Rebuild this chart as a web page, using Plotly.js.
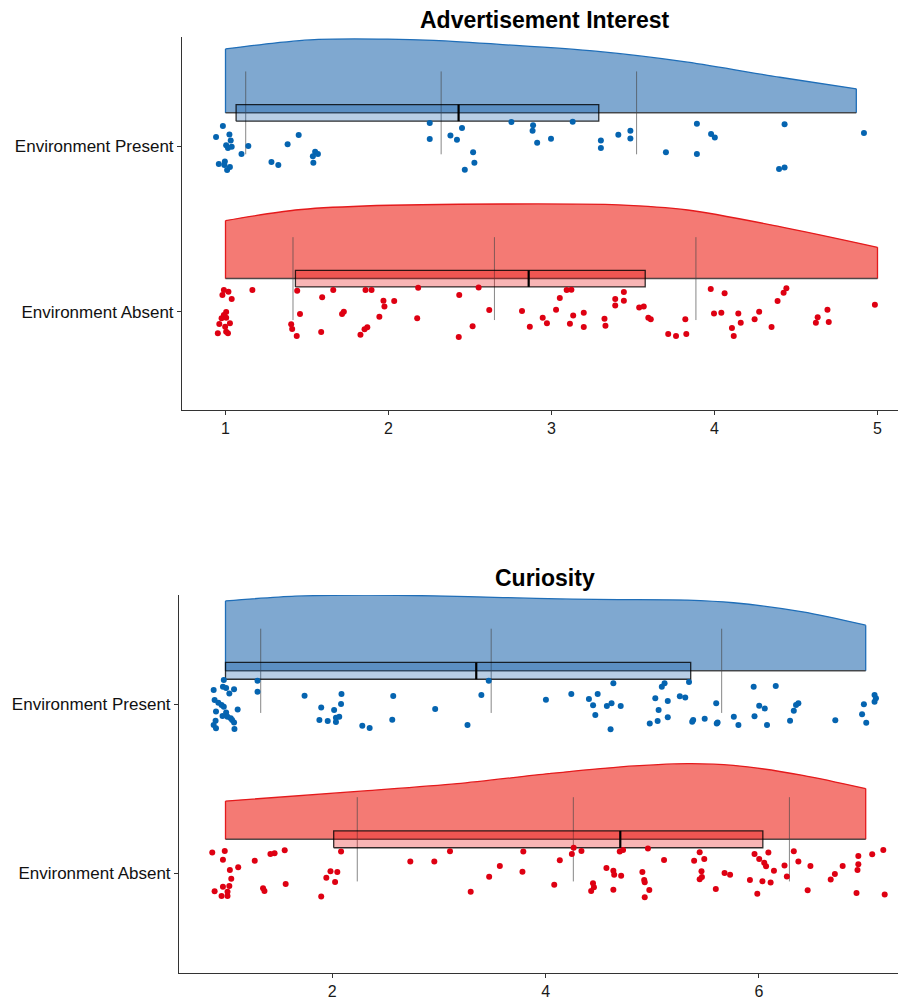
<!DOCTYPE html>
<html>
<head>
<meta charset="utf-8">
<script src="https://cdn.plot.ly/plotly-3.0.1.min.js"></script>
<style>html,body{margin:0;padding:0;background:#fff;}#chart{width:898px;height:1002px;}</style>
</head>
<body>
<div id="chart"></div>
<script>
// ---------- DATA ----------
const categoryLabels = ['Environment Absent', 'Environment Present'];
const categoryValues = [1, 2];
const panelTitles = ['Advertisement Interest', 'Curiosity'];
const adTicks = [1, 2, 3, 4, 5];
const curTicks = [2, 4, 6];

// Advertisement Interest – Environment Present
const adPresentX = [0.984,0.942,1.024,1.032,1.004,1.015,1.038,0.959,0.996,0.993,1.010,1.027,1.098,1.140,1.282,1.324,1.381,1.449,1.536,1.550,1.567,1.539,2.253,2.253,2.380,2.420,2.451,2.519,2.527,2.468,2.754,2.887,2.884,2.912,2.997,3.130,3.303,3.303,3.410,3.484,3.484,3.702,3.892,3.892,3.979,4.002,4.430,4.396,4.430,4.917];
const adPresentJitter = [0.121,0.054,0.070,0.034,0.004,-0.012,-0.004,-0.109,-0.093,-0.115,-0.145,-0.127,-0.048,0.000,-0.097,-0.115,0.010,0.066,-0.061,-0.034,-0.048,-0.101,0.139,0.042,0.064,0.038,0.108,-0.038,-0.101,-0.143,0.145,0.125,0.092,0.020,0.044,0.147,0.034,-0.012,0.068,0.092,0.046,-0.038,0.135,-0.048,0.072,0.052,0.131,-0.139,-0.129,0.078];
// Advertisement Interest – Environment Absent
const adAbsentX = [0.990,1.018,0.981,1.038,1.165,1.004,0.990,0.976,1.004,0.962,1.027,0.998,0.953,1.004,1.015,1.440,1.457,1.403,1.409,1.437,1.593,1.587,1.661,1.715,1.726,1.859,1.896,1.828,1.853,1.870,1.944,1.969,1.975,2.035,2.176,2.182,2.434,2.431,2.553,2.516,2.618,2.819,2.867,2.946,2.972,3.028,3.051,3.093,3.122,3.133,3.113,3.198,3.198,3.325,3.331,3.391,3.391,3.444,3.444,3.538,3.566,3.594,3.609,3.716,3.764,3.827,3.821,3.977,4.062,3.997,4.042,4.146,4.161,4.107,4.118,4.246,4.274,4.350,4.387,4.424,4.441,4.622,4.633,4.693,4.701,4.984];
const adAbsentJitter = [0.131,0.121,0.101,0.077,0.131,-0.002,-0.020,-0.040,-0.036,-0.074,-0.070,-0.090,-0.130,-0.120,-0.130,0.127,-0.014,-0.076,-0.104,-0.147,0.087,-0.122,0.131,-0.014,0.000,0.131,0.131,-0.139,-0.106,-0.094,-0.030,0.067,0.032,0.065,-0.040,0.145,0.101,-0.153,0.147,-0.088,0.010,0.004,-0.090,-0.036,-0.070,0.012,0.083,0.131,0.133,-0.022,-0.072,-0.006,-0.092,-0.042,-0.084,0.077,0.038,0.119,0.067,0.026,0.032,-0.036,-0.046,-0.135,-0.147,-0.135,-0.046,0.137,0.111,-0.010,-0.006,-0.010,-0.066,-0.098,-0.147,-0.046,0.000,-0.092,0.065,0.115,0.141,-0.066,-0.034,0.012,-0.062,0.042];

// Curiosity – Environment Present
const curPresentX = [0.984,0.976,1.006,0.889,1.036,1.080,0.898,0.933,0.963,0.984,1.114,0.911,1.006,0.972,1.019,1.049,1.062,0.907,1.080,0.889,0.911,1.084,1.300,1.300,1.741,1.897,2.018,2.083,2.087,1.880,1.958,2.035,2.066,2.035,2.282,2.351,2.572,2.563,2.965,3.268,3.398,3.467,4.003,4.241,4.406,4.445,4.488,4.635,4.574,4.618,4.704,4.466,4.609,5.028,5.089,5.115,5.145,5.059,5.145,5.050,4.976,5.258,5.309,5.344,5.374,5.383,5.491,5.599,5.604,5.612,5.764,5.807,5.950,6.157,6.002,6.054,5.958,6.075,6.291,6.326,6.347,6.369,6.715,6.983,6.966,7.005,7.083,7.096,7.083];
const curPresentJitter = [0.145,0.106,0.098,0.086,0.066,0.090,0.027,0.011,-0.003,-0.013,-0.029,-0.042,-0.048,-0.068,-0.072,-0.082,-0.092,-0.096,-0.106,-0.122,-0.141,-0.145,0.141,0.076,0.052,-0.017,-0.033,0.003,0.062,-0.092,-0.098,-0.078,-0.072,-0.104,-0.126,-0.139,0.050,-0.090,-0.027,-0.122,0.056,0.141,0.029,0.062,0.033,-0.005,0.062,0.126,-0.009,0.007,-0.009,-0.062,-0.147,0.037,0.106,0.126,0.021,-0.033,-0.076,-0.098,-0.112,0.049,0.041,0.134,-0.102,-0.092,-0.084,0.007,-0.112,-0.106,-0.072,-0.122,0.106,0.110,-0.007,-0.023,-0.070,-0.122,-0.096,-0.037,-0.003,0.007,-0.094,0.001,-0.058,-0.108,0.056,0.037,0.017];
// Curiosity – Environment Absent
const curAbsentX = [0.876,0.993,0.976,1.041,1.119,1.054,0.898,0.976,1.036,1.019,0.963,1.019,1.274,1.421,1.460,1.555,1.352,1.365,1.564,1.897,2.083,1.984,2.048,1.945,2.027,2.732,2.957,3.104,3.298,3.471,3.571,3.783,3.791,4.081,4.133,4.246,4.263,4.336,4.444,4.453,4.427,4.570,4.635,4.643,4.708,4.635,4.695,4.726,4.907,4.924,4.929,4.972,4.929,4.959,5.110,5.392,5.444,5.487,5.461,5.465,5.444,5.595,5.677,5.729,5.915,5.958,6.002,6.049,6.066,6.088,6.140,6.032,6.109,5.984,6.239,6.261,6.326,6.369,6.482,6.456,6.672,6.711,6.784,6.931,6.931,6.923,6.914,7.061,7.165,7.178];
const curAbsentJitter = [0.121,0.131,0.079,0.018,0.034,-0.034,-0.109,-0.081,-0.077,-0.111,-0.136,-0.136,0.073,0.113,0.117,0.135,-0.091,-0.107,-0.065,-0.140,0.127,0.010,0.006,-0.028,-0.053,0.069,0.069,0.129,-0.111,-0.022,0.042,0.008,0.127,-0.069,0.075,0.113,0.150,0.131,-0.061,-0.085,-0.107,0.030,0.014,-0.010,-0.016,-0.099,0.127,0.137,0.006,-0.041,-0.055,-0.101,-0.144,0.145,0.077,0.073,0.123,0.083,0.010,-0.024,-0.037,-0.095,0.000,-0.010,-0.041,0.113,0.083,0.061,0.040,0.121,0.014,-0.049,-0.057,-0.123,0.044,-0.020,0.129,0.069,0.042,-0.103,-0.039,-0.006,0.042,0.101,0.052,0.018,-0.119,0.111,0.137,-0.128];

// Density curves (x value, density height in category units)
const adPresentDensX = [1.0,1.287,1.57,1.995,2.278,2.70,3.27,3.835,4.40,4.87];
const adPresentDensH = [0.386,0.42,0.443,0.445,0.437,0.412,0.372,0.306,0.215,0.145];
const adAbsentDensX = [1.0,1.429,1.853,2.70,3.41,3.835,4.40,5.0];
const adAbsentDensH = [0.35,0.414,0.438,0.45,0.445,0.414,0.314,0.189];
const curPresentDensX = [1.0,1.655,2.30,2.95,3.60,4.25,4.68,5.33,5.76,6.41,7.0];
const curPresentDensH = [0.415,0.443,0.449,0.445,0.435,0.425,0.423,0.42,0.404,0.35,0.271];
const curAbsentDensX = [1.0,2.30,3.17,4.03,4.68,5.33,5.76,6.41,7.0];
const curAbsentDensH = [0.227,0.287,0.33,0.39,0.429,0.449,0.439,0.38,0.301];

// Box statistics [Absent, Present]
const adQ1 = [1.429, 1.065];
const adMedian = [2.86, 2.43];
const adQ3 = [3.575, 3.29];
const curQ1 = [2.014, 1.0];
const curMedian = [4.70, 3.35];
const curQ3 = [6.036, 5.36];

// Mean and SD reference lines [Absent, Present]
const adMean = [2.65, 2.323];
const adSD = [1.236, 1.199];
const curMean = [4.26, 3.49];
const curSD = [2.025, 2.16];

// ---------- STYLE ----------
const styles = {
  blue: {fill: 'rgb(127,168,208)', line: 'rgb(31,110,184)', box: 'rgba(0,80,160,0.28)', pt: 'rgb(5,100,176)'},
  red:  {fill: 'rgb(244,122,116)', line: 'rgb(228,26,28)', box: 'rgba(232,0,0,0.29)', pt: 'rgb(222,0,18)'}
};
const BASE = 0.2, BOX_LO = 0.15, BOX_HI = 0.25, REF_LO = -0.05, REF_HI = 0.45;
const FONT = 'Liberation Sans, Arial, Helvetica, sans-serif';

const panels = [
  {xa: 'x', ya: 'y', groups: [
    {cat: categoryValues[1], st: styles.blue, px: adPresentX, pj: adPresentJitter, dx: adPresentDensX, dh: adPresentDensH, q1: adQ1[1], med: adMedian[1], q3: adQ3[1], mean: adMean[1], sd: adSD[1]},
    {cat: categoryValues[0], st: styles.red, px: adAbsentX, pj: adAbsentJitter, dx: adAbsentDensX, dh: adAbsentDensH, q1: adQ1[0], med: adMedian[0], q3: adQ3[0], mean: adMean[0], sd: adSD[0]}
  ]},
  {xa: 'x2', ya: 'y2', groups: [
    {cat: categoryValues[1], st: styles.blue, px: curPresentX, pj: curPresentJitter, dx: curPresentDensX, dh: curPresentDensH, q1: curQ1[1], med: curMedian[1], q3: curQ3[1], mean: curMean[1], sd: curSD[1]},
    {cat: categoryValues[0], st: styles.red, px: curAbsentX, pj: curAbsentJitter, dx: curAbsentDensX, dh: curAbsentDensH, q1: curQ1[0], med: curMedian[0], q3: curQ3[0], mean: curMean[0], sd: curSD[0]}
  ]}
];

const traces = [];
panels.forEach(p => {
  p.groups.forEach(g => {
    const b = g.cat + BASE;
    const n = g.dx.length;
    const ax = {xaxis: p.xa, yaxis: p.ya, hoverinfo: 'skip'};
    // density: invisible baseline, then spline top curve filled down to it
    traces.push(Object.assign({type: 'scatter', mode: 'lines', x: g.dx, y: g.dx.map(() => b),
      line: {width: 0, color: 'rgba(0,0,0,0)'}}, ax));
    traces.push(Object.assign({type: 'scatter', mode: 'lines', x: g.dx, y: g.dh.map(h => b + h),
      fill: 'tonexty', fillcolor: g.st.fill,
      line: {color: g.st.line, width: 1.3, shape: 'spline', smoothing: 0.8}}, ax));
    // straight end edges
    traces.push(Object.assign({type: 'scatter', mode: 'lines', x: [g.dx[0], g.dx[0]], y: [b, b + g.dh[0]],
      line: {color: g.st.line, width: 1.3}}, ax));
    traces.push(Object.assign({type: 'scatter', mode: 'lines', x: [g.dx[n-1], g.dx[n-1]], y: [b, b + g.dh[n-1]],
      line: {color: g.st.line, width: 1.3}}, ax));
    // dark baseline
    traces.push(Object.assign({type: 'scatter', mode: 'lines', x: [g.dx[0], g.dx[n-1]], y: [b, b],
      line: {color: 'rgba(50,50,50,0.85)', width: 1.5}}, ax));
    // mean +/- sd lines
    [g.mean - g.sd, g.mean, g.mean + g.sd].forEach(v => {
      traces.push(Object.assign({type: 'scatter', mode: 'lines', x: [v, v], y: [g.cat + REF_LO, g.cat + REF_HI],
        line: {color: 'rgba(70,70,70,0.65)', width: 1}}, ax));
    });
    // box
    traces.push(Object.assign({type: 'scatter', mode: 'lines',
      x: [g.q1, g.q3, g.q3, g.q1, g.q1], y: [g.cat + BOX_LO, g.cat + BOX_LO, g.cat + BOX_HI, g.cat + BOX_HI, g.cat + BOX_LO],
      fill: 'toself', fillcolor: g.st.box,
      line: {color: 'rgba(0,0,0,0.8)', width: 1.3}}, ax));
    traces.push(Object.assign({type: 'scatter', mode: 'lines', x: [g.med, g.med], y: [g.cat + BOX_LO, g.cat + BOX_HI],
      line: {color: '#000', width: 2.2}}, ax));
    // points
    traces.push(Object.assign({type: 'scatter', mode: 'markers', x: g.px, y: g.px.map((_, i) => g.cat + g.pj[i]),
      marker: {color: g.st.pt, size: 6}}, ax));
  });
});

const axCommon = {showgrid: false, zeroline: false, showline: true, linecolor: '#333', linewidth: 1,
  ticks: 'outside', ticklen: 4, tickwidth: 1, tickcolor: '#333', fixedrange: true,
  tickfont: {family: FONT, size: 16, color: '#1a1a1a'}};

const layout = {
  width: 898, height: 1002,
  margin: {l: 0, r: 0, t: 0, b: 0},
  paper_bgcolor: '#fff', plot_bgcolor: '#fff',
  showlegend: false,
  xaxis: Object.assign({}, axCommon, {domain: [0.20267, 1], range: [0.7331, 5.1258], tickvals: adTicks, ticktext: adTicks.map(String), anchor: 'y'}),
  yaxis: Object.assign({}, axCommon, {domain: [0.5908, 0.9631], range: [0.407, 2.658], tickvals: categoryValues, ticktext: categoryLabels, anchor: 'x',
    tickfont: {family: FONT, size: 17, color: '#111'}}),
  xaxis2: Object.assign({}, axCommon, {domain: [0.19933, 1], range: [0.5642, 7.3027], tickvals: curTicks, ticktext: curTicks.map(String), anchor: 'y2'}),
  yaxis2: Object.assign({}, axCommon, {domain: [0.02894, 0.40619], range: [0.4065, 2.65], tickvals: categoryValues, ticktext: categoryLabels, anchor: 'x2',
    tickfont: {family: FONT, size: 17, color: '#111'}}),
  annotations: [
    {text: '<b>' + panelTitles[0] + '</b>', xref: 'paper', yref: 'paper', x: 545/898, y: 1 - 20/1002, xanchor: 'center', yanchor: 'middle',
      showarrow: false, font: {family: FONT, size: 23, color: '#000'}},
    {text: '<b>' + panelTitles[1] + '</b>', xref: 'paper', yref: 'paper', x: 545/898, y: 1 - 578/1002, xanchor: 'center', yanchor: 'middle',
      showarrow: false, font: {family: FONT, size: 23, color: '#000'}}
  ]
};

Plotly.newPlot('chart', traces, layout, {staticPlot: true, displayModeBar: false});
</script>
</body>
</html>
